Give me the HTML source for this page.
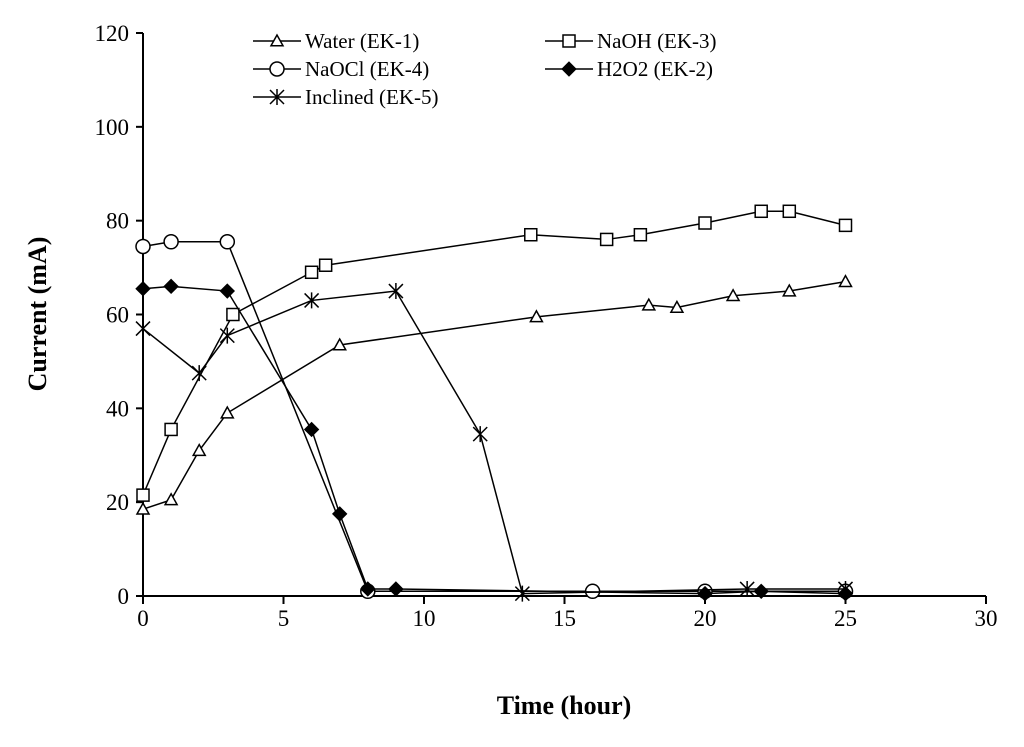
<!DOCTYPE html>
<html><head><meta charset="utf-8"><style>
body{margin:0;background:#fff}
text{font-family:"Liberation Serif",serif;fill:#000}
</style></head><body>
<svg id="chart" width="1024" height="742" xmlns="http://www.w3.org/2000/svg"></svg>
<script>
const xTicks=[0,5,10,15,20,25,30];
const yTicks=[0,20,40,60,80,100,120];
const seriesNames=["Water (EK-1)","NaOH (EK-3)","NaOCl (EK-4)","H2O2 (EK-2)","Inclined (EK-5)"];
const waterT=[0,1,2,3,7,14,18,19,21,23,25];
const waterV=[18.5,20.5,31,39,53.5,59.5,62,61.5,64,65,67];
const naohT=[0,1,3.2,6,6.5,13.8,16.5,17.7,20,22,23,25];
const naohV=[21.5,35.5,60,69,70.5,77,76,77,79.5,82,82,79];
const naoclT=[0,1,3,8,16,20,25];
const naoclV=[74.5,75.5,75.5,1,1,1,1];
const h2o2T=[0,1,3,6,7,8,9,20,22,25];
const h2o2V=[65.5,66,65,35.5,17.5,1.5,1.5,0.5,1,0.5];
const inclT=[0,2,3,6,9,12,13.5,21.5,25];
const inclV=[57,47.5,55.5,63,65,34.5,0.5,1.5,1.5];

const X0=143,X1=986,Y0=596,Y1=33;
const sx=t=>X0+t/30*(X1-X0);
const sy=v=>Y0-v/120*(Y0-Y1);
const svg=document.getElementById('chart');
const NS="http://www.w3.org/2000/svg";
function el(tag,attrs,parent){const e=document.createElementNS(NS,tag);for(const k in attrs)e.setAttribute(k,attrs[k]);(parent||svg).appendChild(e);return e;}

// axes
let a=el('line',{x1:X0,y1:Y1,x2:X0,y2:Y0,stroke:'#000','stroke-width':2});


a=el('line',{x1:X0,y1:Y0,x2:X1,y2:Y0,stroke:'#000','stroke-width':2});


yTicks.forEach(v=>{
  el('line',{x1:X0-7,y1:sy(v),x2:X0,y2:sy(v),stroke:'#000','stroke-width':2});
  const t=el('text',{x:X0-14,y:sy(v)+8,'text-anchor':'end','font-size':23});
  t.textContent=v;
  
  
});
xTicks.forEach(v=>{
  el('line',{x1:sx(v),y1:Y0,x2:sx(v),y2:Y0+8,stroke:'#000','stroke-width':2});
  const t=el('text',{x:sx(v),y:626,'text-anchor':'middle','font-size':23});
  t.textContent=v;
  
  
});
let tt=el('text',{x:564,y:714,'text-anchor':'middle','font-size':26,'font-weight':'bold'});
tt.textContent='Time (hour)';


tt=el('text',{x:0,y:0,'text-anchor':'middle','font-size':26,'font-weight':'bold',transform:'translate(46,314) rotate(-90)'});
tt.textContent='Current (mA)';



function marker(type,x,y,g){
  const s=6;
  if(type==='tri') el('polygon',{points:`${x},${y-s} ${x-s},${y+s*0.8} ${x+s},${y+s*0.8}`,fill:'#fff',stroke:'#000','stroke-width':1.5},g);
  else if(type==='sq') el('rect',{x:x-s,y:y-s,width:2*s,height:2*s,fill:'#fff',stroke:'#000','stroke-width':1.5},g);
  else if(type==='circ') el('circle',{cx:x,cy:y,r:s+1,fill:'#fff',stroke:'#000','stroke-width':1.5},g);
  else if(type==='dia') el('polygon',{points:`${x},${y-s-1} ${x+s+1},${y} ${x},${y+s+1} ${x-s-1},${y}`,fill:'#000',stroke:'#000','stroke-width':1},g);
  else if(type==='star'){const d=`M${x-s-1},${y-s-1}L${x+s+1},${y+s+1}M${x-s-1},${y+s+1}L${x+s+1},${y-s-1}M${x},${y-s-2}L${x},${y+s+2}`;el('path',{d:d,stroke:'#000','stroke-width':1.5,fill:'none'},g);}
}
const all=[[waterT,waterV,'tri','series-water'],[naohT,naohV,'sq','series-naoh'],[naoclT,naoclV,'circ','series-naocl'],[h2o2T,h2o2V,'dia','series-h2o2'],[inclT,inclV,'star','series-inclined']];
all.forEach(([T,V,m,name])=>{
  const g=el('g',{});
  
  
  el('polyline',{points:T.map((t,i)=>sx(t)+','+sy(V[i])).join(' '),fill:'none',stroke:'#000','stroke-width':1.5},g);
  T.forEach((t,i)=>marker(m,sx(t),sy(V[i]),g));
});
// legend
const legPos=[[253,41],[545,41],[253,69],[545,69],[253,97]];
const legM=['tri','sq','circ','dia','star'];
seriesNames.forEach((n,i)=>{
  const [lx,ly]=legPos[i];
  const g=el('g',{});
  
  
  el('line',{x1:lx,y1:ly,x2:lx+48,y2:ly,stroke:'#000','stroke-width':1.5},g);
  marker(legM[i],lx+24,ly,g);
  const t=el('text',{x:lx+52,y:ly+7,'font-size':21},g);
  t.textContent=n;
});
</script>
</body></html>
